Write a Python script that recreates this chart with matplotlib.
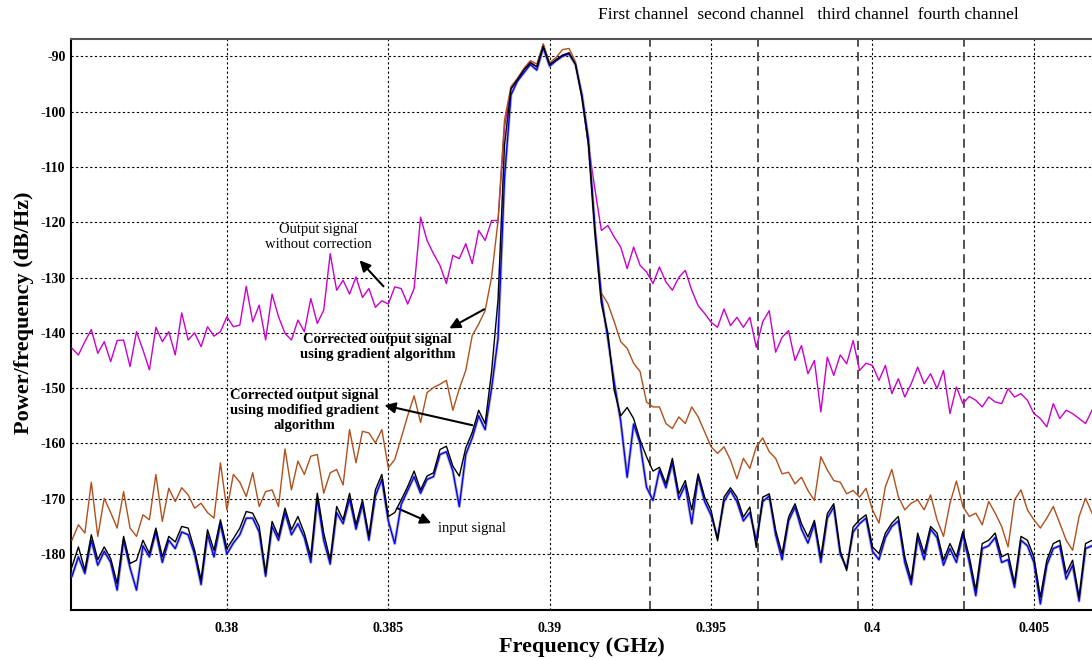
import numpy as np
import matplotlib
matplotlib.use('Agg')
import matplotlib.pyplot as plt

# frequency axis (GHz), one point every 0.2 MHz
freq = 0.3752 + 0.0002 * np.arange(159)

# output signal without correction (magenta)
no_corr = [-142.8, -144.0, -141.6, -139.4, -143.7, -141.6, -145.2, -141.4, -141.3, -146.1,
           -139.8, -143.1, -146.7, -139.0, -141.6, -139.8, -144.0, -136.4, -141.3, -140.0,
           -142.5, -138.9, -140.6, -139.8, -137.1, -138.9, -138.6, -131.6, -138.0, -135.0,
           -141.3, -133.0, -137.1, -140.1, -141.3, -137.7, -139.8, -133.8, -138.3, -135.9,
           -125.7, -132.3, -130.5, -133.0, -129.9, -133.6, -132.0, -135.4, -134.2, -134.8,
           -131.7, -132.0, -134.8, -132.0, -119.1, -123.3, -125.7, -127.8, -131.1, -126.0,
           -126.6, -123.9, -127.5, -121.5, -123.3, -119.7, -119.7, -102.8, -95.9, -94.5,
           -92.5, -91.0, -91.9, -87.8, -91.5, -90.8, -89.8, -89.4, -91.5, -97.5,
           -106.0, -114.0, -121.5, -120.6, -122.7, -124.5, -128.4, -124.5, -127.8, -129.0,
           -131.1, -128.1, -130.8, -132.3, -130.0, -128.7, -132.3, -135.1, -136.5, -138.1,
           -139.0, -135.7, -138.7, -137.2, -139.0, -137.2, -142.6, -138.0, -136.0, -143.5,
           -140.8, -139.6, -145.0, -142.3, -147.4, -145.0, -154.3, -144.4, -147.7, -144.0,
           -145.6, -141.4, -146.8, -145.5, -145.9, -148.6, -145.9, -151.0, -148.3, -151.6,
           -149.2, -146.2, -149.2, -147.4, -150.1, -146.8, -154.6, -149.8, -152.8, -151.5,
           -152.2, -153.4, -151.6, -152.5, -152.8, -150.1, -151.6, -151.0, -152.2, -154.6,
           -155.5, -157.0, -152.8, -155.5, -154.0, -154.6, -155.5, -156.4, -154.0]

# corrected output, gradient algorithm (brown)
gradient = [-177.5, -174.7, -176.2, -167.0, -176.8, -169.9, -172.5, -175.3, -168.7, -175.3,
            -176.8, -172.9, -173.8, -165.6, -174.1, -168.1, -170.5, -168.0, -169.3, -171.7,
            -170.8, -172.5, -173.5, -163.5, -172.0, -165.6, -167.0, -169.6, -165.3, -171.4,
            -168.7, -168.4, -171.4, -161.0, -168.4, -163.2, -165.6, -162.3, -162.0, -169.0,
            -165.3, -164.7, -167.5, -157.5, -163.5, -157.8, -158.1, -159.9, -157.5, -164.4,
            -162.9, -159.0, -155.0, -151.4, -156.2, -150.8, -149.9, -149.3, -148.6, -154.0,
            -150.1, -146.8, -140.5, -138.4, -136.0, -129.9, -119.7, -101.5, -95.5, -94.0,
            -92.2, -90.8, -91.4, -87.8, -91.2, -90.2, -88.8, -88.6, -91.0, -97.5,
            -106.0, -121.0, -132.8, -134.7, -138.0, -141.6, -142.8, -145.5, -147.0, -152.5,
            -153.4, -153.4, -156.4, -157.3, -155.2, -156.4, -153.4, -155.2, -157.9, -160.6,
            -161.8, -160.6, -163.0, -166.4, -162.7, -164.5, -160.6, -159.0, -161.5, -162.7,
            -165.5, -165.2, -167.3, -166.1, -168.5, -170.3, -162.4, -164.8, -166.7, -167.0,
            -169.1, -168.5, -169.7, -168.1, -172.0, -174.4, -167.8, -164.7, -169.6, -172.0,
            -170.8, -170.2, -172.0, -169.3, -173.8, -176.8, -170.8, -166.8, -171.4, -173.2,
            -172.6, -174.7, -170.5, -172.6, -175.0, -178.7, -170.2, -168.4, -172.0, -173.8,
            -175.3, -173.5, -171.4, -174.4, -177.5, -179.3, -173.2, -169.9, -172.6]

# input signal (blue)
input_sig = [-184.0, -180.5, -183.5, -177.5, -182.0, -179.5, -181.5, -186.5, -177.5, -182.5,
             -186.5, -178.5, -180.5, -176.0, -181.5, -177.5, -179.0, -176.0, -176.5, -180.0,
             -185.5, -176.5, -180.5, -174.5, -180.0, -178.0, -176.5, -173.5, -173.5, -176.0,
             -184.0, -175.0, -177.5, -172.5, -176.5, -174.5, -177.0, -181.5, -170.0, -177.5,
             -181.8, -172.5, -174.5, -170.0, -175.5, -171.0, -177.5, -169.5, -166.5, -174.0,
             -178.1, -171.0, -168.5, -166.0, -169.0, -166.5, -166.0, -162.0, -161.5, -165.0,
             -171.4, -162.0, -159.0, -155.0, -157.5, -150.0, -141.0, -112.0, -97.0, -94.5,
             -93.0, -91.5, -92.5, -88.5, -91.8, -90.8, -90.0, -89.6, -91.5, -97.0,
             -105.0, -121.0, -133.5, -141.0, -149.0, -156.0, -166.1, -156.5, -160.0, -167.9,
             -170.3, -164.8, -168.0, -163.5, -170.0, -167.5, -174.5, -166.0, -170.5, -173.0,
             -177.0, -170.5, -168.5, -170.5, -174.0, -172.5, -177.5, -170.5, -169.5, -176.5,
             -181.0, -174.0, -171.5, -175.5, -178.0, -174.5, -181.5, -173.5, -171.5, -180.0,
             -182.5, -176.0, -174.5, -173.5, -179.5, -181.0, -177.0, -175.0, -174.0, -181.5,
             -185.5, -177.0, -181.0, -175.5, -177.0, -182.0, -179.0, -181.5, -176.5, -181.5,
             -187.5, -179.0, -178.5, -177.0, -181.5, -181.0, -186.0, -177.5, -178.5, -181.5,
             -189.0, -182.0, -179.0, -178.5, -184.5, -182.0, -188.5, -179.0, -178.5]

# corrected output, modified gradient algorithm (black)
modified = [-182.3, -178.7, -182.9, -176.5, -181.0, -178.7, -180.8, -185.3, -176.8, -181.7,
            -181.1, -177.5, -179.9, -175.3, -180.5, -176.8, -177.8, -175.0, -175.3, -179.3,
            -184.7, -175.6, -179.3, -173.8, -179.0, -177.2, -175.3, -172.3, -172.6, -175.0,
            -183.5, -174.1, -176.8, -171.7, -175.6, -173.2, -176.2, -180.5, -169.0, -176.2,
            -181.1, -171.4, -173.8, -169.0, -174.7, -170.2, -176.8, -168.4, -165.6, -173.2,
            -172.5, -170.2, -167.8, -165.0, -168.4, -165.9, -165.3, -161.1, -160.5, -164.1,
            -165.9, -160.8, -158.0, -154.0, -156.4, -147.0, -134.0, -106.0, -95.9, -94.2,
            -92.5, -91.2, -91.9, -88.2, -91.5, -90.6, -89.8, -89.4, -91.5, -97.5,
            -106.0, -122.0, -134.7, -140.0, -150.4, -155.0, -153.5, -155.5, -159.4, -162.4,
            -165.0, -164.3, -167.3, -162.7, -169.1, -166.7, -172.0, -165.5, -169.7, -172.1,
            -177.6, -169.7, -168.0, -169.7, -173.3, -171.5, -178.8, -169.7, -169.1, -175.7,
            -180.0, -173.3, -170.9, -174.5, -176.9, -173.9, -180.6, -172.7, -170.9, -179.4,
            -183.0, -175.1, -173.8, -172.9, -178.7, -179.9, -176.2, -174.4, -173.2, -180.5,
            -184.7, -176.2, -179.9, -175.0, -176.2, -181.1, -178.1, -180.5, -175.9, -180.5,
            -186.5, -178.1, -177.5, -176.2, -180.5, -179.9, -185.3, -176.8, -177.5, -180.5,
            -187.8, -181.1, -178.1, -177.5, -183.5, -181.1, -187.8, -178.1, -177.5]

# channel borders (GHz)
channels = [0.39312, 0.39645, 0.39954, 0.40285]

xticks = [0.38, 0.385, 0.39, 0.395, 0.4, 0.405]
xtick_labels = ['0.38', '0.385', '0.39', '0.395', '0.4', '0.405']
yticks = [-90, -100, -110, -120, -130, -140, -150, -160, -170, -180]

plt.rcParams['font.family'] = ['Liberation Serif', 'DejaVu Serif']
plt.rcParams['axes.unicode_minus'] = False

fig = plt.figure(figsize=(10.92, 6.6), dpi=100)
ax = fig.add_axes([0.065, 0.0758, 0.935, 0.865])

ax.plot(freq, no_corr, color='#cc00cc', lw=1.0, zorder=3)
ax.plot(freq, gradient, color='#b0501c', lw=1.0, zorder=3)
ax.plot(freq, input_sig, color='#888888', lw=2.2, alpha=0.6, zorder=3)
ax.plot(freq, input_sig, color='#0000ff', lw=1.0, zorder=4)
ax.plot(freq, modified, color='black', lw=1.0, zorder=5)

for c in channels:
    ax.axvline(c, color='#444444', lw=1.3, dashes=(5, 3), zorder=2)

ax.set_xlim(0.37517, 0.4068)
ax.set_ylim(-190.1, -86.9)
ax.set_xticks(xticks)
ax.set_xticklabels(xtick_labels)
ax.set_yticks(yticks)
ax.grid(True, color='black', lw=0.8, linestyle=(0, (2.0, 2.2)), zorder=1)
ax.tick_params(length=0, labelsize=10)
ax.tick_params(axis='x', pad=8.5)
ax.tick_params(axis='y', pad=4)
for lab in ax.get_xticklabels() + ax.get_yticklabels():
    lab.set_fontweight('bold')

ax.spines['right'].set_visible(False)
ax.spines['top'].set_color('#555555')
ax.spines['top'].set_linewidth(1.5)
ax.spines['left'].set_linewidth(1.5)
ax.spines['bottom'].set_linewidth(1.5)

ax.set_xlabel('Frequency (GHz)', fontsize=16, fontweight='bold')
ax.set_ylabel('Power/frequency (dB/Hz)', fontsize=16, fontweight='bold')
ax.xaxis.set_label_coords(0.5, -0.047)
ax.yaxis.set_label_coords(-0.036, 0.52)

fig.text(598 / 1092, 1 - 15 / 660, 'First channel  second channel   third channel  fourth channel',
         fontsize=12.5, ha='left', va='center')

arrow = dict(arrowstyle='-|>', color='black', lw=1.5, mutation_scale=16, shrinkA=0, shrinkB=0)

ax.annotate('', xy=(0.38411, -126.9), xytext=(0.38485, -131.6), arrowprops=arrow)
ax.text(0.38284, -122.7, 'Output signal\nwithout correction', fontsize=10.5,
        ha='center', va='center', linespacing=1.2)

ax.annotate('', xy=(0.38689, -139.2), xytext=(0.38797, -135.75), arrowprops=arrow)
ax.text(0.38467, -142.6, 'Corrected output signal\nusing gradient algorithm', fontsize=10.5,
        fontweight='bold', ha='center', va='center', linespacing=1.2)

ax.annotate('', xy=(0.38488, -153.1), xytext=(0.38760, -156.7), arrowprops=arrow)
ax.text(0.38241, -154.0, 'Corrected output signal\nusing modified gradient\nalgorithm',
        fontsize=10.5, fontweight='bold', ha='center', va='center', linespacing=1.2)

ax.annotate('', xy=(0.38633, -174.4), xytext=(0.38528, -171.7), arrowprops=arrow)
ax.text(0.38760, -175.4, 'input signal', fontsize=10.5, ha='center', va='center')

plt.savefig('out.png', dpi=100)
